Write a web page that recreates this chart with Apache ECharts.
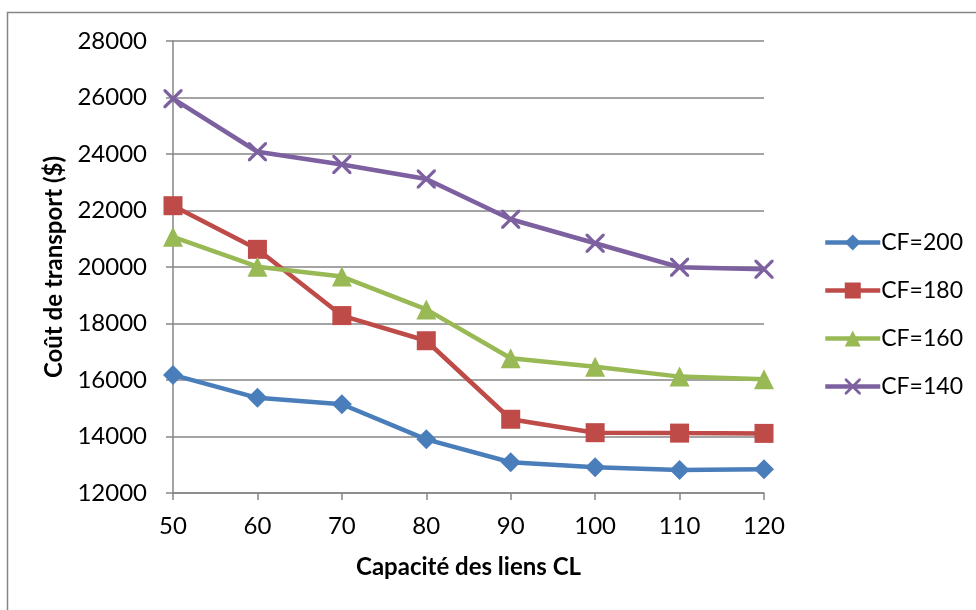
<!DOCTYPE html>
<html>
<head>
<meta charset="utf-8">
<script src="https://cdn.jsdelivr.net/npm/echarts@6/dist/echarts.min.js"></script>
<style>html,body{margin:0;padding:0;background:#fff}#c{width:976px;height:610px}</style>
</head>
<body>
<div id="c"></div>
<script>
const categories = ['50','60','70','80','90','100','110','120'];
const cf200 = [16180, 15370, 15140, 13900, 13090, 12910, 12815, 12840];
const cf180 = [22170, 20625, 18280, 17390, 14610, 14135, 14120, 14110];
const cf160 = [21070, 20010, 19660, 18500, 16770, 16470, 16120, 16025];
const cf140 = [25960, 24080, 23630, 23115, 21690, 20840, 19990, 19920];
const seriesNames = ['CF=200','CF=180','CF=160','CF=140'];
const xTitle = 'Capacité des liens CL';
const yTitle = 'Coût de transport ($)';

const FONT = 'Lato';
const crossPath = 'path://M0,0L1.2,0L10,8.8L10,10L8.8,10L0,1.2Z M8.8,0L10,0L10,1.2L1.2,10L0,10L0,8.8Z';
const chart = echarts.init(document.getElementById('c'));
function mk(name, data, color, symbol, size) {
  return {
    name, type: 'line', data, symbol, symbolSize: size, showAllSymbol: true,
    lineStyle: { color, width: 4.5 }, itemStyle: { color },
    emphasis: { disabled: true }, animation: false
  };
}
chart.setOption({
  animation: false,
  textStyle: { fontFamily: FONT },
  graphic: [{ type: 'rect', shape: { x: 7.5, y: 12.5, width: 1200, height: 1200 }, style: { fill: 'none', stroke: '#868686', lineWidth: 1.5 }, silent: true }],
  grid: { left: 173, right: 212, top: 41, bottom: 117 },
  xAxis: {
    type: 'category', data: categories, boundaryGap: false,
    axisLine: { lineStyle: { color: '#868686', width: 1.5 } },
    axisTick: { show: true, length: 7, lineStyle: { color: '#868686', width: 1.5 }, alignWithLabel: true },
    axisLabel: { color: '#000', fontSize: 24, fontFamily: FONT, margin: 21 },
    name: xTitle, nameLocation: 'middle', nameGap: 62,
    nameTextStyle: { color: '#000', fontSize: 24, fontWeight: 'bold', fontFamily: FONT }
  },
  yAxis: {
    type: 'value', min: 12000, max: 28000, interval: 2000,
    axisLine: { show: true, lineStyle: { color: '#868686', width: 1.5 } },
    axisTick: { show: true, length: 7, lineStyle: { color: '#868686', width: 1.5 } },
    splitLine: { lineStyle: { color: '#868686', width: 1.5 } },
    axisLabel: { color: '#000', fontSize: 24, fontFamily: FONT, margin: 26, formatter: v => String(v) },
    name: yTitle, nameLocation: 'middle', nameGap: 102, nameRotate: 90,
    nameTextStyle: { color: '#000', fontSize: 24, fontWeight: 'bold', fontFamily: FONT }
  },
  legend: {
    orient: 'vertical', left: 818, top: 226, itemGap: 25, itemWidth: 55, itemHeight: 20,
    lineStyle: { width: 4.5 },
    textStyle: { color: '#000', fontSize: 23, fontFamily: FONT, padding: [0,0,0,-4] },
    data: seriesNames
  },
  series: [
    mk(seriesNames[0], cf200, '#4A7EBB', 'diamond', 20),
    mk(seriesNames[1], cf180, '#BE4B48', 'rect', 19),
    mk(seriesNames[2], cf160, '#98B954', 'triangle', 20),
    Object.assign(mk(seriesNames[3], cf140, '#7D60A0', crossPath, 19), { symbolKeepAspect: true })
  ]
});
</script>
</body>
</html>
